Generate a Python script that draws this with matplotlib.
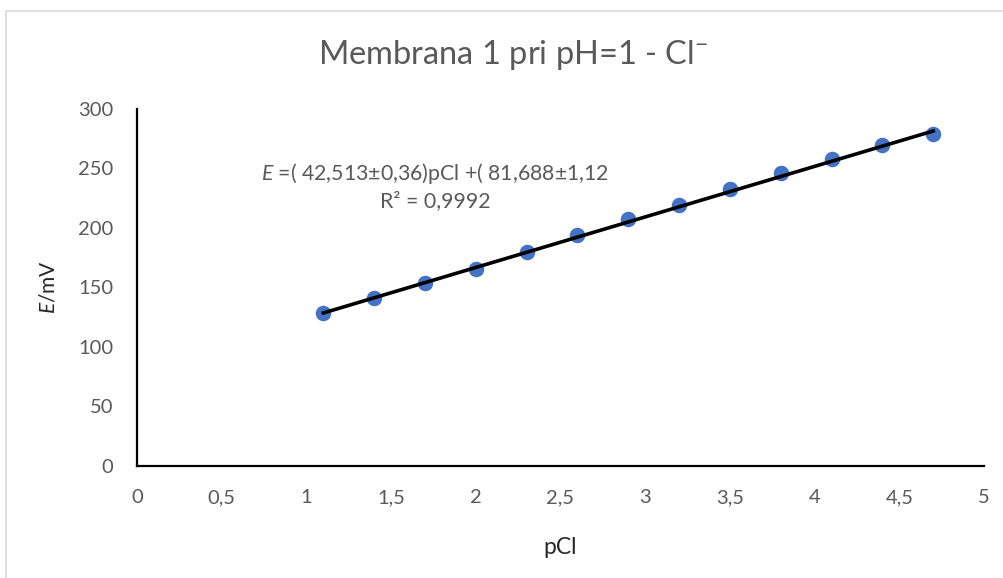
import matplotlib
matplotlib.use("Agg")
import matplotlib.pyplot as plt
from matplotlib.lines import Line2D
import numpy as np

# ---- data ----
pcl = [1.1, 1.4, 1.7, 2.0, 2.3, 2.6, 2.9, 3.2, 3.5, 3.8, 4.1, 4.4, 4.7]
e_mv = [128.7, 140.8, 153.4, 165.4, 179.5, 194.0, 207.2, 219.3, 232.5, 245.9, 258.2, 269.7, 279.0]
slope, slope_err = 42.513, 0.36
intercept, intercept_err = 81.688, 1.12
r2 = 0.9992
x_ticks = [0, 0.5, 1, 1.5, 2, 2.5, 3, 3.5, 4, 4.5, 5]
y_ticks = [0, 50, 100, 150, 200, 250, 300]

def fmt(v):
    s = ("%g" % v)
    return s.replace(".", ",")

plt.rcParams['font.family'] = ['Lato', 'DejaVu Sans']
plt.rcParams['mathtext.fontset'] = 'custom'
plt.rcParams['mathtext.rm'] = 'Lato'
plt.rcParams['mathtext.it'] = 'Lato:italic'

W, H = 1004, 578
fig = plt.figure(figsize=(W / 100, H / 100), dpi=100)
fig.patch.set_facecolor('white')

ax = fig.add_axes([137 / W, 1 - 465.7 / H, (984 - 137) / W, (465.7 - 109) / H])

ax.scatter(pcl, e_mv, s=125, color='#4472C4', zorder=3, linewidths=0)
xl = np.array([min(pcl), max(pcl)])
ax.plot(xl, slope * xl + intercept, color='black', lw=2.6, zorder=4)

ax.set_xlim(0, 5)
ax.set_ylim(0, 300)
ax.set_xticks(x_ticks)
ax.set_xticklabels([fmt(v) for v in x_ticks])
ax.set_yticks(y_ticks)
ax.set_yticklabels([fmt(v) for v in y_ticks])
ax.tick_params(length=0, labelsize=14.5, colors='#595959')
ax.tick_params(axis='x', pad=17)
ax.tick_params(axis='y', pad=17)
for s in ['top', 'right']:
    ax.spines[s].set_visible(False)
for s in ['left', 'bottom']:
    ax.spines[s].set_linewidth(1.6)
    ax.spines[s].set_color('black')

ax.set_xlabel('pCl', fontsize=16.5, color='#262626')
ax.set_ylabel(r'$\mathit{E}$/mV', fontsize=15, color='#262626')
ax.xaxis.set_label_coords(0.5, -0.2)
ax.yaxis.set_label_coords(-0.093, 0.5)

fig.text(0.511, 1 - 55 / H, r'Membrana 1 pri pH=1 - Cl$^{\mathregular{-}}$',
         ha='center', va='center', fontsize=23.5, color='#595959')

eq1 = r'$\mathit{E}$ =( %s±%s)pCl +( %s±%s' % (fmt(slope), fmt(slope_err), fmt(intercept), fmt(intercept_err))
eq2 = 'R² = %s' % fmt(r2)
fig.text(435 / W, 1 - 173 / H, eq1, ha='center', va='center', fontsize=15.3, color='#595959')
fig.text(435 / W, 1 - 201 / H, eq2, ha='center', va='center', fontsize=15.3, color='#595959')

# chart-area border (top and left visible)
fig.add_artist(Line2D([6 / W, 6 / W, 1.0], [0.0, 1 - 11 / H, 1 - 11 / H],
                      transform=fig.transFigure, color='#d9d9d9', lw=1.2))

fig.savefig('out.png', dpi=100, facecolor='white')
